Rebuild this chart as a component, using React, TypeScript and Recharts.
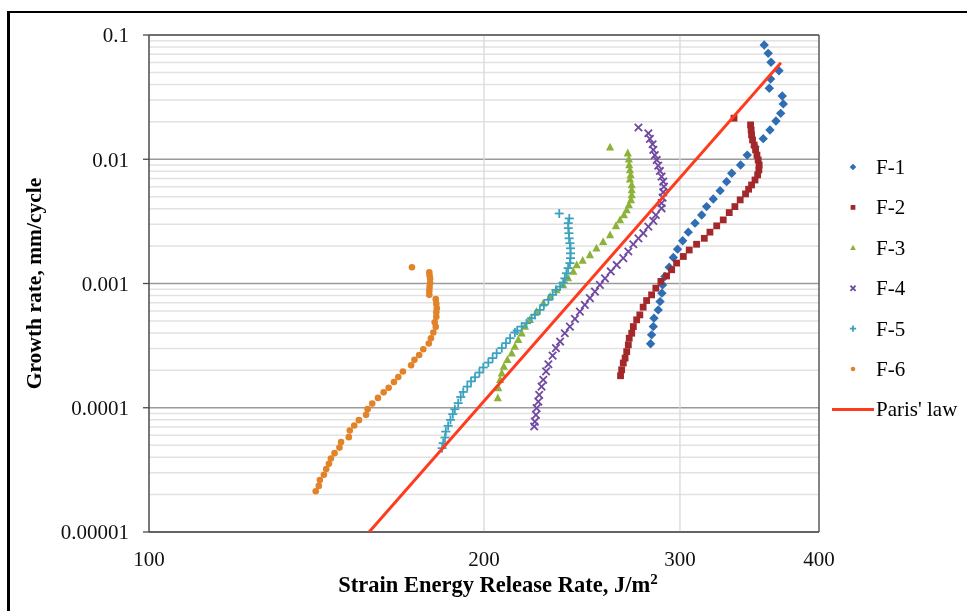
import React from 'react';
import { ScatterChart, Scatter, XAxis, YAxis, CartesianGrid, ReferenceLine } from 'recharts';

// Strain energy release rate (J/m^2), growth rate (mm/cycle)
const F1: [number, number][] = [
  [357.1, 0.0831], [360.1, 0.0712], [362.2, 0.0603], [368.2, 0.0516], [361.9, 0.0443], [360.9, 0.0373],
  [370.7, 0.0323], [371.5, 0.0279], [369.5, 0.0234], [365.9, 0.0203], [361.4, 0.0172], [356.4, 0.01465],
  [350.4, 0.0126], [344.8, 0.0108], [340.1, 0.009], [333.9, 0.00772], [330.4, 0.0066], [326.0, 0.00559],
  [321.4, 0.00479], [317.0, 0.00416], [313.8, 0.00356], [309.5, 0.00306], [305.2, 0.00259], [301.7, 0.00221],
  [298.5, 0.00189], [295.9, 0.00162], [293.4, 0.00135], [290.8, 0.00114], [289.4, 0.000974], [289.0, 0.000836],
  [287.9, 0.000715], [286.8, 0.000613], [284.3, 0.000526], [283.9, 0.00045], [282.9, 0.000386], [282.3, 0.000327],
];

const F2: [number, number][] = [
  [335.5, 0.0214], [347.2, 0.0189], [347.6, 0.0172], [347.9, 0.0157], [348.6, 0.0143], [349.8, 0.013],
  [350.8, 0.0119], [351.8, 0.0108], [352.7, 0.00987], [353.4, 0.009], [353.2, 0.0082], [352.3, 0.00748],
  [350.4, 0.00681], [347.9, 0.00621], [345.8, 0.00574], [343.6, 0.00526], [339.8, 0.00471], [336.1, 0.00416],
  [332.2, 0.00372], [328.1, 0.00325], [323.7, 0.00291], [319.2, 0.00259], [315.5, 0.00231], [310.5, 0.00207],
  [305.8, 0.00186], [302.1, 0.00165], [297.9, 0.00146], [294.9, 0.00129], [291.8, 0.00115], [288.4, 0.00104],
  [285.4, 0.000917], [282.9, 0.00081], [280.0, 0.000729], [278.0, 0.000645], [276.1, 0.000559], [274.3, 0.00051],
  [272.4, 0.00045], [271.5, 0.000398], [270.1, 0.000363], [269.6, 0.000321], [268.7, 0.000283], [267.8, 0.000251],
  [266.8, 0.000229], [265.9, 0.000202], [265.3, 0.000181],
];

const F3: [number, number][] = [
  [259.6, 0.0125], [269.3, 0.0112], [269.9, 0.01], [270.1, 0.009], [270.5, 0.0082], [270.9, 0.00748],
  [270.5, 0.0069], [271.5, 0.00621], [271.5, 0.00566], [271.5, 0.00516], [271.1, 0.00471], [269.9, 0.00429],
  [268.7, 0.00391], [267.2, 0.00356], [265.0, 0.00325], [262.8, 0.00291], [259.6, 0.00246], [255.9, 0.00217],
  [252.4, 0.00192], [249.0, 0.0017], [245.3, 0.00153], [242.3, 0.00141], [240.6, 0.00125], [238.0, 0.00111],
  [235.6, 0.000974], [232.4, 0.000888], [229.3, 0.000785], [226.1, 0.000694], [223.0, 0.000594], [219.9, 0.00051],
  [217.7, 0.00045], [216.2, 0.000398], [214.7, 0.000352], [213.2, 0.000311], [211.8, 0.000275], [209.9, 0.000243],
  [208.4, 0.000215], [207.5, 0.00019], [206.8, 0.000168], [206.0, 0.000144], [205.8, 0.00012],
];

const F4: [number, number][] = [
  [275.3, 0.018], [281.0, 0.0162], [281.9, 0.0146], [283.5, 0.0132], [283.9, 0.0119], [284.8, 0.0108],
  [285.9, 0.00987], [286.8, 0.00888], [287.8, 0.00805], [288.8, 0.00724], [289.8, 0.0066], [290.2, 0.00602],
  [289.8, 0.00543], [289.4, 0.00491], [288.8, 0.00443], [288.8, 0.00403], [285.4, 0.00356], [283.9, 0.00319],
  [281.0, 0.00287], [278.1, 0.00254], [275.3, 0.00231], [272.4, 0.00207], [269.6, 0.00181], [266.8, 0.0016],
  [263.2, 0.00141], [260.0, 0.00125], [256.9, 0.0011], [254.2, 0.000974], [251.6, 0.000861], [249.0, 0.000762],
  [246.4, 0.000673], [243.9, 0.000594], [241.4, 0.000519], [238.9, 0.00045], [236.4, 0.000398], [234.1, 0.000341],
  [232.1, 0.000302], [230.5, 0.000263], [228.5, 0.000224], [227.4, 0.000196], [226.1, 0.000168], [225.3, 0.000148],
  [224.2, 0.000127], [223.8, 0.000112], [223.0, 0.0000993], [222.7, 0.0000877], [222.2, 0.0000774], [221.9, 0.0000706],
];

const F5: [number, number][] = [
  [233.7, 0.00366], [238.6, 0.00334], [238.1, 0.00306], [238.1, 0.00279], [238.4, 0.00254], [238.5, 0.00231],
  [238.9, 0.00211], [239.2, 0.00192], [239.2, 0.00175], [239.2, 0.0016], [238.9, 0.00146], [238.0, 0.00133],
  [237.2, 0.00121], [236.4, 0.0011], [235.6, 0.00102], [234.1, 0.000944], [232.1, 0.000888], [230.5, 0.00081],
  [228.5, 0.000738], [226.4, 0.000673], [224.5, 0.000613], [222.2, 0.000559], [220.7, 0.000526], [218.4, 0.000479],
  [216.2, 0.00045], [214.2, 0.000418], [213.2, 0.000403], [211.1, 0.000363], [209.3, 0.000331], [207.5, 0.000302],
  [205.3, 0.000275], [203.6, 0.000251], [201.8, 0.000231], [199.7, 0.000211], [198.1, 0.000192], [196.3, 0.000176],
  [194.7, 0.000163], [193.2, 0.000148], [191.6, 0.000134], [190.6, 0.000122], [189.6, 0.000109], [188.3, 0.0000974],
  [187.5, 0.0000888], [186.6, 0.0000799], [185.7, 0.0000715], [184.8, 0.0000643], [184.5, 0.0000576], [183.8, 0.0000519],
  [183.4, 0.0000473],
];

const F6: [number, number][] = [
  [172.3, 0.00135], [178.6, 0.00123], [178.7, 0.00116], [178.9, 0.00109], [178.9, 0.00101], [178.7, 0.000939],
  [178.6, 0.000872], [178.6, 0.00081], [181.0, 0.000748], [181.2, 0.000685], [181.4, 0.000633], [181.2, 0.000588],
  [181.2, 0.000539], [180.6, 0.000488], [181.0, 0.000448], [180.1, 0.000403], [179.2, 0.000363], [178.4, 0.000329],
  [176.4, 0.000296], [174.9, 0.000266], [173.2, 0.000243], [172.0, 0.00022], [169.1, 0.000196], [167.5, 0.000177],
  [166.0, 0.000161], [164.2, 0.000145], [162.5, 0.000133], [160.6, 0.00012], [158.7, 0.000108], [157.2, 0.0000974],
  [156.7, 0.0000877], [154.4, 0.0000795], [152.9, 0.0000719], [151.5, 0.0000656], [151.2, 0.000058], [148.8, 0.0000529],
  [148.3, 0.0000478], [146.8, 0.0000431], [145.7, 0.000039], [145.1, 0.0000354], [144.3, 0.0000321], [143.6, 0.0000289],
  [142.4, 0.0000262], [142.1, 0.0000235], [141.2, 0.0000213],
];

const PARIS: [number, number][] = [
  [157.7, 0.00001], [369.7, 0.0598],
];

const X_TICKS = [100, 200, 300, 400];
const X_GRID = [200, 300];
const Y_TICKS = [0.00001, 0.0001, 0.001, 0.01, 0.1];
const Y_TICK_LABELS = ['0.00001', '0.0001', '0.001', '0.01', '0.1'];
const Y_MINOR = [
  0.00002, 0.00003, 0.00004, 0.00005, 0.00006, 0.00007, 0.00008, 0.00009,
  0.0002, 0.0003, 0.0004, 0.0005, 0.0006, 0.0007, 0.0008, 0.0009,
  0.002, 0.003, 0.004, 0.005, 0.006, 0.007, 0.008, 0.009,
  0.02, 0.03, 0.04, 0.05, 0.06, 0.07, 0.08, 0.09,
];

type Kind = 'diamond' | 'square' | 'triangle' | 'x' | 'plus' | 'circle';

const SERIES: { name: string; data: [number, number][]; color: string; kind: Kind }[] = [
  { name: 'F-1', data: F1, color: '#2F6DB5', kind: 'diamond' },
  { name: 'F-2', data: F2, color: '#A3282A', kind: 'square' },
  { name: 'F-3', data: F3, color: '#8CB23A', kind: 'triangle' },
  { name: 'F-4', data: F4, color: '#7048A0', kind: 'x' },
  { name: 'F-5', data: F5, color: '#3BA2C0', kind: 'plus' },
  { name: 'F-6', data: F6, color: '#E2832A', kind: 'circle' },
];
const PARIS_NAME = "Paris' law";
const PARIS_COLOR = '#FF3B1F';

const FONT = '"Liberation Serif", "Times New Roman", serif';

const toPts = (a: [number, number][]) => a.map(([g, r]) => ({ g, r }));

function marker(kind: Kind, cx: number, cy: number, color: string, k: number, key?: string) {
  switch (kind) {
    case 'diamond': {
      const s = 4.7 * k;
      return <polygon key={key} points={`${cx},${cy - s} ${cx + s},${cy} ${cx},${cy + s} ${cx - s},${cy}`} fill={color} />;
    }
    case 'square': {
      const s = 3.4 * k;
      return <rect key={key} x={cx - s} y={cy - s} width={2 * s} height={2 * s} fill={color} />;
    }
    case 'triangle': {
      const s = 4.1 * k;
      return <polygon key={key} points={`${cx},${cy - s * 1.1} ${cx + s},${cy + s * 0.8} ${cx - s},${cy + s * 0.8}`} fill={color} />;
    }
    case 'x': {
      const s = 3.7 * k;
      return (
        <g key={key} stroke={color} strokeWidth={1.8}>
          <line x1={cx - s} y1={cy - s} x2={cx + s} y2={cy + s} />
          <line x1={cx - s} y1={cy + s} x2={cx + s} y2={cy - s} />
        </g>
      );
    }
    case 'plus': {
      const s = 4.5 * k;
      return (
        <g key={key} stroke={color} strokeWidth={1.8}>
          <line x1={cx - s} y1={cy} x2={cx + s} y2={cy} />
          <line x1={cx} y1={cy - s} x2={cx} y2={cy + s} />
        </g>
      );
    }
    default:
      return <circle key={key} cx={cx} cy={cy} r={3.3 * k} fill={color} />;
  }
}

const YTitle = (props: any) => {
  const vb = props.viewBox;
  const x = vb.x + 41;
  const y = vb.y + vb.height / 2;
  return (
    <text
      x={x}
      y={y}
      transform={`rotate(-90, ${x}, ${y})`}
      textAnchor="middle"
      fontFamily={FONT}
      fontWeight="bold"
      fontSize={21.5}
      fill="#000"
    >
      Growth rate, mm/cycle
    </text>
  );
};

const XTitle = (props: any) => {
  const vb = props.viewBox;
  return (
    <text
      x={vb.x + vb.width / 2 + 14}
      y={vb.y + 60}
      textAnchor="middle"
      fontFamily={FONT}
      fontWeight="bold"
      fontSize={22.5}
      fill="#000"
    >
      Strain Energy Release Rate, J/m
      <tspan fontSize={15} dy={-8}>2</tspan>
    </text>
  );
};

const Legend = () => {
  const rows = [...SERIES.map((s) => s.name), PARIS_NAME];
  return (
    <svg width={967} height={611} style={{ position: 'fixed', left: 0, top: 0, pointerEvents: 'none' }}>
      {rows.map((name, i) => {
        const y = 167 + i * 40.4;
        const s = SERIES[i];
        return (
          <g key={name}>
            {s ? marker(s.kind, 853, y, s.color, 0.7) : <line x1={832} y1={y} x2={874} y2={y} stroke={PARIS_COLOR} strokeWidth={3} />}
            <text x={876} y={y + 7} fontFamily={FONT} fontSize={21} fill="#000">
              {name}
            </text>
          </g>
        );
      })}
    </svg>
  );
};

export default function App() {
  return (
    <div style={{ position: 'relative', width: 951, height: 595 }}>
      <div
        style={{
          position: 'fixed',
          left: 7,
          top: 11,
          width: 960,
          height: 600,
          boxSizing: 'border-box',
          borderLeft: '3px solid #000',
          borderTop: '2.5px solid #000',
        }}
      />
      <div style={{ position: 'fixed', left: 0, top: 0 }}>
        <ScatterChart width={967} height={611} margin={{ top: 35, right: 148, bottom: 0, left: 0 }}>
          {Y_MINOR.map((v) => (
            <ReferenceLine key={'m' + v} y={v} stroke="#e2e2e2" strokeWidth={1.5} />
          ))}
          {X_GRID.map((v) => (
            <ReferenceLine key={'vx' + v} x={v} stroke="#d8d8d8" strokeWidth={1.3} />
          ))}
          <CartesianGrid horizontal vertical={false} stroke="#9a9a9a" strokeWidth={1.4} />
          <ReferenceLine y={0.1} stroke="#5a5a5a" strokeWidth={1.5} />
          <ReferenceLine x={400} stroke="#5a5a5a" strokeWidth={1.5} />
          <XAxis
            dataKey="g"
            type="number"
            scale="log"
            domain={[100, 400]}
            ticks={X_TICKS}
            allowDataOverflow
            height={79}
            tickLine={false}
            tickSize={0}
            tickMargin={19}
            axisLine={{ stroke: '#4a4a4a', strokeWidth: 1.5 }}
            tick={{ fontFamily: FONT, fontSize: 21, fill: '#111' }}
            label={<XTitle />}
          />
          <YAxis
            dataKey="r"
            type="number"
            scale="log"
            domain={[0.00001, 0.1]}
            ticks={Y_TICKS}
            allowDataOverflow
            width={149}
            tickSize={6}
            tickMargin={14}
            tickLine={{ stroke: '#4a4a4a', strokeWidth: 1.3 }}
            axisLine={{ stroke: '#4a4a4a', strokeWidth: 1.5 }}
            tickFormatter={(v: number) => Y_TICK_LABELS[Y_TICKS.indexOf(v)] ?? String(v)}
            tick={{ fontFamily: FONT, fontSize: 21, fill: '#111' }}
            label={<YTitle />}
          />
          {SERIES.map((s) => (
            <Scatter
              key={s.name}
              name={s.name}
              data={toPts(s.data)}
              isAnimationActive={false}
              shape={(p: any) => marker(s.kind, p.cx, p.cy, s.color, 1)}
            />
          ))}
          <Scatter
            name={PARIS_NAME}
            data={toPts(PARIS)}
            isAnimationActive={false}
            line={{ stroke: PARIS_COLOR, strokeWidth: 3 }}
            shape={() => <g />}
          />
        </ScatterChart>
      </div>
      <Legend />
    </div>
  );
}
